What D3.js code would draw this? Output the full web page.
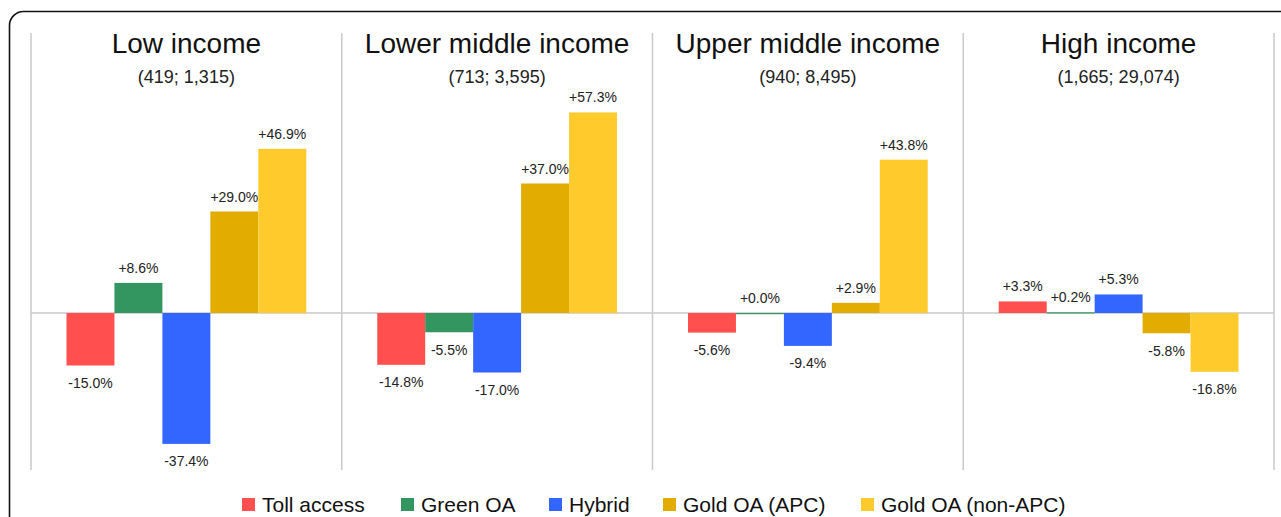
<!DOCTYPE html>
<html>
<head>
<meta charset="utf-8">
<script src="https://cdn.jsdelivr.net/npm/d3@7"></script>
<style>
  html, body { margin: 0; padding: 0; background: #fff; }
  svg { display: block; font-family: "Liberation Sans", Arial, sans-serif; }
</style>
</head>
<body>
<svg id="chart"></svg>
<script>
const groups = ["Low income", "Lower middle income", "Upper middle income", "High income"];
const groupCounts = ["(419; 1,315)", "(713; 3,595)", "(940; 8,495)", "(1,665; 29,074)"];
const series = ["Toll access", "Green OA", "Hybrid", "Gold OA (APC)", "Gold OA (non-APC)"];
const seriesColors = ["#ff4f4f", "#33955f", "#3366ff", "#e2ac00", "#ffca2c"];

// percent change per group, in series order
const lowIncome = [-15.0, 8.6, -37.4, 29.0, 46.9];
const lowerMiddle = [-14.8, -5.5, -17.0, 37.0, 57.3];
const upperMiddle = [-5.6, 0.0, -9.4, 2.9, 43.8];
const highIncome = [3.3, 0.2, 5.3, -5.8, -16.8];
const values = [lowIncome, lowerMiddle, upperMiddle, highIncome];

const width = 1281, height = 517;
const svg = d3.select("#chart").attr("width", width).attr("height", height);

// outer frame (runs off the right and bottom edges)
svg.append("rect")
  .attr("x", 9.5).attr("y", 11.5)
  .attr("width", 1300).attr("height", 560)
  .attr("rx", 14)
  .attr("fill", "none")
  .attr("stroke", "#111")
  .attr("stroke-width", 1.6);

const x0 = d3.scaleBand().domain(groups).range([31, 1274]);
const x1 = d3.scaleBand().domain(series).range([35.5, x0.bandwidth() - 35.5]);
const y = d3.scaleLinear().domain([-50, 60]).range([488, 103]);
const color = d3.scaleOrdinal().domain(series).range(seriesColors);

// plain hyphen for negatives, like the original
const fmt = v => (v < 0 ? "-" : "+") + Math.abs(v).toFixed(1) + "%";

// panel separators
const bounds = groups.map(g => x0(g)).concat([x0.range()[1]]);
svg.append("g").selectAll("line")
  .data(bounds)
  .join("line")
  .attr("x1", d => d).attr("x2", d => d)
  .attr("y1", 33).attr("y2", 470)
  .attr("stroke", "#c9c9c9")
  .attr("stroke-width", 1.5);

// zero line
svg.append("line")
  .attr("x1", x0.range()[0]).attr("x2", x0.range()[1])
  .attr("y1", y(0)).attr("y2", y(0))
  .attr("stroke", "#c9c9c9")
  .attr("stroke-width", 1.5);

const panel = svg.append("g").selectAll("g")
  .data(groups)
  .join("g")
  .attr("transform", g => `translate(${x0(g)},0)`);

panel.append("text")
  .attr("x", x0.bandwidth() / 2)
  .attr("y", 53)
  .attr("text-anchor", "middle")
  .attr("font-size", 28)
  .attr("fill", "#111")
  .text(g => g);

panel.append("text")
  .attr("x", x0.bandwidth() / 2)
  .attr("y", 83)
  .attr("text-anchor", "middle")
  .attr("font-size", 18)
  .attr("fill", "#222")
  .text((g, i) => groupCounts[i]);

const bars = panel.selectAll("g.bar")
  .data((g, i) => series.map((s, j) => ({series: s, value: values[i][j]})))
  .join("g")
  .attr("class", "bar");

bars.append("rect")
  .attr("x", d => x1(d.series))
  .attr("width", x1.bandwidth())
  .attr("y", d => y(Math.max(0, d.value)))
  .attr("height", d => Math.max(1.2, Math.abs(y(d.value) - y(0))))
  .attr("fill", d => color(d.series));

bars.append("text")
  .attr("x", d => x1(d.series) + x1.bandwidth() / 2)
  .attr("y", d => d.value < 0 ? y(d.value) + 22.5 : y(d.value) - 10)
  .attr("text-anchor", "middle")
  .attr("font-size", 14)
  .attr("fill", "#222")
  .text(d => fmt(d.value));

// legend
const legendX = [242, 401, 549, 663, 861];
const legend = svg.append("g").selectAll("g")
  .data(series)
  .join("g")
  .attr("transform", (s, i) => `translate(${legendX[i]},0)`);

legend.append("rect")
  .attr("x", 0).attr("y", 498)
  .attr("width", 13).attr("height", 13)
  .attr("fill", s => color(s));

legend.append("text")
  .attr("x", 20).attr("y", 512)
  .attr("font-size", 21)
  .attr("fill", "#111")
  .text(s => s);
</script>
</body>
</html>
